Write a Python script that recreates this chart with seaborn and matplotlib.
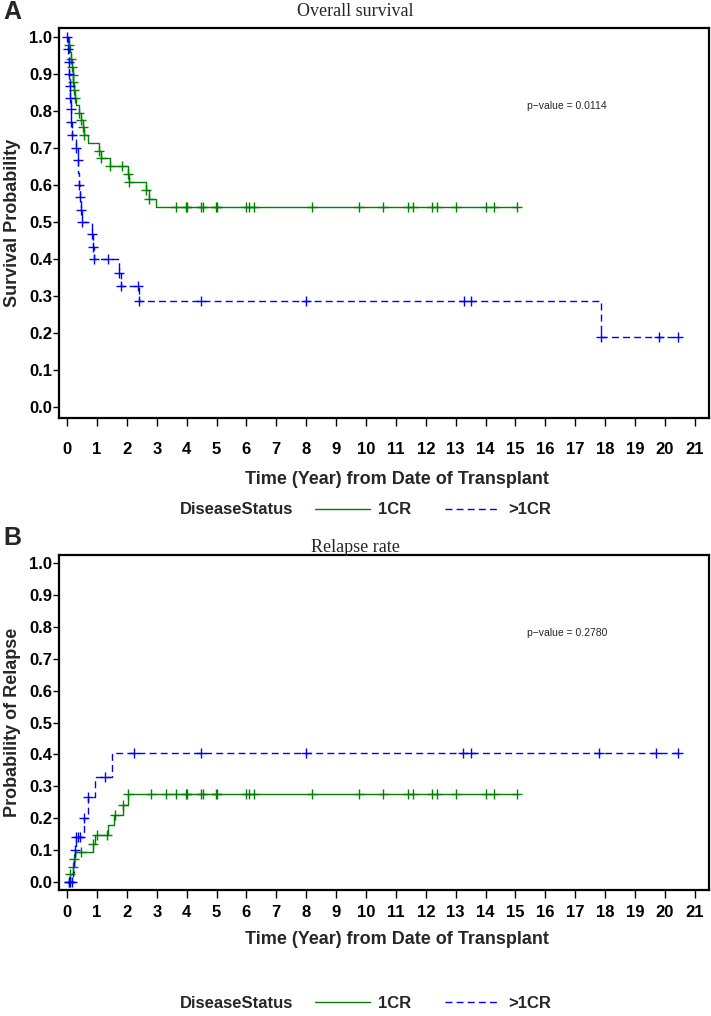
import matplotlib
matplotlib.use('Agg')
import matplotlib.pyplot as plt
from matplotlib.lines import Line2D
import numpy as np
import pandas as pd
import seaborn as sns

# ---- data ----
# Panel A: overall survival, step starts (years) and survival level
os_1cr_t = [0, 0.05, 0.10, 0.13, 0.16, 0.19, 0.21, 0.23, 0.26, 0.30, 0.41, 0.47, 0.53, 0.58,
            0.71, 1.07, 1.13, 1.45, 2.05, 2.08, 2.64, 2.74, 2.98]
os_1cr_s = [1.0, 0.977, 0.96, 0.94, 0.918, 0.898, 0.878, 0.857, 0.836, 0.816, 0.795, 0.775, 0.755, 0.734,
            0.713, 0.692, 0.673, 0.652, 0.63, 0.607, 0.585, 0.562, 0.54]
os_1cr_end = 15.05
os_1cr_cens = [0.05, 0.13, 0.16, 0.19, 0.21, 0.23, 0.26, 0.41, 0.47, 0.53, 0.58, 1.07, 1.13, 1.45,
               1.83, 2.05, 2.08, 2.64, 2.74, 3.66, 3.99, 4.02, 4.49, 4.55, 4.99, 5.02, 5.98, 6.07,
               6.25, 8.18, 9.77, 10.57, 11.42, 11.56, 12.2, 12.38, 13.02, 14.02, 14.28, 15.05]

os_gt1_t = [0, 0.02, 0.07, 0.08, 0.09, 0.11, 0.13, 0.145, 0.18, 0.30, 0.35, 0.38, 0.40, 0.43, 0.46,
            0.51, 0.84, 0.87, 0.89, 1.74, 1.79, 2.40, 17.85]
os_gt1_s = [1.0, 0.966, 0.933, 0.90, 0.868, 0.836, 0.804, 0.77, 0.736, 0.70, 0.667, 0.633, 0.60, 0.566,
            0.533, 0.50, 0.466, 0.433, 0.40, 0.363, 0.327, 0.286, 0.19]
os_gt1_end = 20.45
os_gt1_cens = [0, 0.02, 0.07, 0.08, 0.09, 0.11, 0.13, 0.145, 0.18, 0.30, 0.35, 0.40, 0.43, 0.46, 0.51,
               0.84, 0.87, 0.89, 1.38, 1.74, 1.79, 2.37, 2.40, 4.47, 7.99, 13.27, 13.5, 17.85, 19.8, 20.45]

# Panel B: relapse (cumulative incidence)
rel_1cr_t = [0, 0.10, 0.20, 0.24, 0.27, 0.88, 0.93, 1.38, 1.57, 1.86, 2.05]
rel_1cr_s = [0, 0.024, 0.048, 0.071, 0.095, 0.12, 0.148, 0.18, 0.21, 0.24, 0.275]
rel_1cr_end = 15.05
rel_1cr_cens = [0.05, 0.10, 0.20, 0.24, 0.46, 0.88, 1.01, 1.33, 1.59, 1.86, 2.05, 2.8, 3.3, 3.66, 3.99,
                4.02, 4.49, 4.55, 4.99, 5.02, 5.98, 6.07, 6.25, 8.18, 9.77, 10.57, 11.42, 11.56, 12.2,
                12.38, 13.02, 14.02, 14.28, 15.05]

rel_gt1_t = [0, 0.20, 0.24, 0.27, 0.30, 0.55, 0.70, 0.95, 1.50]
rel_gt1_s = [0, 0.033, 0.067, 0.10, 0.14, 0.20, 0.265, 0.33, 0.405]
rel_gt1_end = 20.45
rel_gt1_cens = [0.05, 0.10, 0.15, 0.27, 0.30, 0.35, 0.42, 0.55, 0.70, 1.27, 2.24, 4.48, 8.0, 13.25,
                13.5, 17.8, 19.7, 20.45]

groups = ['1CR', '>1CR']
colors = {'1CR': '#008000', '>1CR': '#0000FF'}
styles = {'1CR': '-', '>1CR': (0, (5, 3))}
pvals = ['p\u2212value = 0.0114', 'p\u2212value = 0.2780']

sns.set_theme(style='ticks')
plt.rcParams['font.family'] = ['Liberation Sans Narrow', 'Liberation Sans', 'DejaVu Sans']
sans = ['Liberation Sans', 'DejaVu Sans']


def step_at(t, times, vals):
    idx = np.searchsorted(times, t, side='right') - 1
    return np.asarray(vals)[idx]


def draw_curve(ax, times, vals, end, cens, grp):
    df = pd.DataFrame({'t': list(times) + [end], 'v': list(vals) + [vals[-1]]})
    sns.lineplot(data=df, x='t', y='v', ax=ax, estimator=None, sort=False,
                 drawstyle='steps-post', color=colors[grp], linestyle=styles[grp], linewidth=1.0)
    cy = step_at(np.array(cens), times, vals)
    ax.plot(cens, cy, linestyle='none', marker='+', markersize=7, mew=1.0, color=colors[grp])


def style_axes(ax, ylabel, xlab_y, xpad):
    ax.set_xlim(-0.27, 21.47)
    ax.set_xticks(range(0, 22))
    ax.set_yticks(np.arange(0, 1.01, 0.1))
    ax.set_yticklabels([f'{v:.1f}' for v in np.arange(0, 1.01, 0.1)])
    for lab in ax.get_xticklabels() + ax.get_yticklabels():
        lab.set_fontweight('bold')
        lab.set_fontsize(12)
    ax.tick_params(axis='x', direction='out', length=6, width=1, pad=xpad, colors='black')
    ax.tick_params(axis='y', direction='out', length=4, width=1, pad=1, colors='black')
    for sp in ax.spines.values():
        sp.set_visible(True)
        sp.set_linewidth(1.6)
        sp.set_color('black')
    ax.set_xlabel('Time (Year) from Date of Transplant', fontsize=13, fontweight='bold')
    ax.xaxis.set_label_coords(0.52, xlab_y)
    ax.set_ylabel(ylabel, fontsize=13, fontweight='bold', va='center')
    ax.yaxis.set_label_coords(-0.072, 0.5)


fig = plt.figure(figsize=(7.11, 10.16), dpi=100)
axA = fig.add_axes([0.083, 0.5886, 0.914, 0.3839])
axB = fig.add_axes([0.083, 0.124, 0.914, 0.3297])

draw_curve(axA, os_1cr_t, os_1cr_s, os_1cr_end, os_1cr_cens, '1CR')
draw_curve(axA, os_gt1_t, os_gt1_s, os_gt1_end, os_gt1_cens, '>1CR')
axA.set_ylim(-0.03, 1.024)
style_axes(axA, 'Survival Probability', -0.135, 11)

draw_curve(axB, rel_1cr_t, rel_1cr_s, rel_1cr_end, rel_1cr_cens, '1CR')
draw_curve(axB, rel_gt1_t, rel_gt1_s, rel_gt1_end, rel_gt1_cens, '>1CR')
axB.set_ylim(-0.025, 1.025)
style_axes(axB, 'Probability of Relapse', -0.122, 5)

# p-values
axA.text(0.72, 0.80, pvals[0], transform=axA.transAxes, fontsize=7.5, family=sans, va='center')
axB.text(0.72, 0.767, pvals[1], transform=axB.transAxes, fontsize=7.5, family=sans, va='center')

# titles and panel letters
serif = ['Liberation Serif', 'DejaVu Serif']
fig.text(0.5, 1 - 12 / 1016, 'Overall survival', ha='center', va='center', fontsize=13, family=serif)
fig.text(0.5, 1 - 548 / 1016, 'Relapse rate', ha='center', va='center', fontsize=13, family=serif)
fig.text(0.005, 1 - 12 / 1016, 'A', ha='left', va='center', fontsize=18, fontweight='bold', family=sans)
fig.text(0.005, 1 - 538 / 1016, 'B', ha='left', va='center', fontsize=18, fontweight='bold', family=sans)

# legends
handles = [Line2D([], [], color=colors[g], linestyle=styles[g], linewidth=1.0) for g in groups]
for ly in (510, 1003):
    yf = 1 - ly / 1016
    fig.text(180 / 711, yf, 'DiseaseStatus', ha='left', va='center', fontsize=12, fontweight='bold',
             family=sans)
    fig.legend(handles, groups, loc='center left', bbox_to_anchor=(300 / 711, yf), ncol=2,
               frameon=False, handlelength=3.3, handletextpad=0.5, columnspacing=2.0,
               prop={'family': sans, 'weight': 'bold', 'size': 12})

fig.savefig('out.png', dpi=100)
